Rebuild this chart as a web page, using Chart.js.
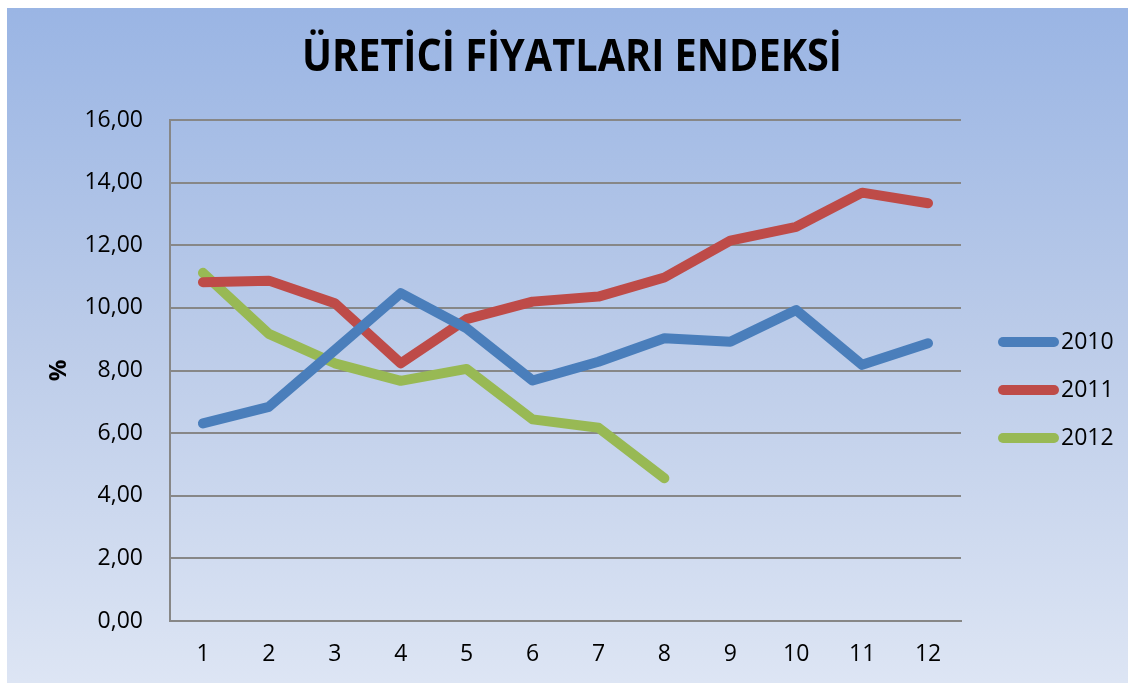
<!DOCTYPE html>
<html>
<head>
<meta charset="utf-8">
<script src="https://cdn.jsdelivr.net/npm/chart.js@4/dist/chart.umd.min.js"></script>
<style>
    html, body { margin: 0; padding: 0; background: #ffffff; }
    #wrap { position: absolute; left: 7px; top: 8px; width: 1121px; height: 675px; }
</style>
</head>
<body>
<div id="wrap"><canvas id="ppiChart"></canvas></div>
<script>
// Chart data
const chartTitle = 'ÜRETİCİ FİYATLARI ENDEKSİ';
const months = ['1', '2', '3', '4', '5', '6', '7', '8', '9', '10', '11', '12'];
const seriesNames = ['2010', '2011', '2012'];
const values2010 = [6.31, 6.84, 8.65, 10.47, 9.35, 7.68, 8.28, 9.03, 8.92, 9.93, 8.18, 8.87];
const values2011 = [10.82, 10.87, 10.15, 8.23, 9.64, 10.20, 10.36, 10.97, 12.15, 12.59, 13.68, 13.34];
const values2012 = [11.12, 9.17, 8.23, 7.67, 8.05, 6.44, 6.17, 4.56];
const yTicks = [0, 2, 4, 6, 8, 10, 12, 14, 16];

const seriesColors = ['#4a7ebb', '#be4b48', '#98b954'];
const tickFont = { family: 'Open Sans', size: 23 };

// Gradient background behind the whole chart
const backgroundPlugin = {
    id: 'gradientBg',
    beforeDraw(chart) {
        const ctx = chart.ctx;
        const g = ctx.createLinearGradient(0, 0, 0, chart.height);
        g.addColorStop(0, '#9ab5e4');
        g.addColorStop(0.5, '#bccce9');
        g.addColorStop(1, '#dde5f4');
        ctx.save();
        ctx.fillStyle = g;
        ctx.fillRect(0, 0, chart.width, chart.height);
        ctx.restore();
    }
};

// Title centred on the whole picture, squeezed to a condensed width
const titlePlugin = {
    id: 'pageTitle',
    afterDraw(chart) {
        const ctx = chart.ctx;
        ctx.save();
        ctx.font = 'bold 45px "Open Sans"';
        ctx.fillStyle = '#000000';
        ctx.textAlign = 'center';
        ctx.textBaseline = 'middle';
        const w = ctx.measureText(chartTitle).width;
        const sx = 540 / w;
        ctx.translate(565, 50);
        ctx.scale(sx, 1);
        ctx.fillText(chartTitle, 0, 0);
        ctx.restore();
    }
};

// Legend drawn at the right, line samples like the original
const sideLegendPlugin = {
    id: 'sideLegend',
    afterDraw(chart) {
        const ctx = chart.ctx;
        const area = chart.chartArea;
        ctx.save();
        chart.data.datasets.forEach((ds, i) => {
            const y = area.top + 222 + i * 48;
            ctx.strokeStyle = ds.borderColor;
            ctx.lineWidth = 10;
            ctx.lineCap = 'round';
            ctx.beginPath();
            ctx.moveTo(area.right + 42, y);
            ctx.lineTo(area.right + 93, y);
            ctx.stroke();
            ctx.fillStyle = '#000000';
            ctx.font = '23px "Open Sans"';
            ctx.textBaseline = 'middle';
            ctx.fillText(ds.label, area.right + 100, y);
        });
        ctx.restore();
    }
};

function makeDataset(label, data, color) {
    return {
        label: label,
        data: data,
        borderColor: color,
        backgroundColor: color,
        borderWidth: 10,
        borderCapStyle: 'round',
        borderJoinStyle: 'round',
        pointRadius: 0,
        tension: 0,
        fill: false
    };
}

const ctx = document.getElementById('ppiChart').getContext('2d');
const ppiChart = new Chart(ctx, {
    type: 'line',
    data: {
        labels: months,
        datasets: [
            makeDataset(seriesNames[0], values2010, seriesColors[0]),
            makeDataset(seriesNames[1], values2011, seriesColors[1]),
            makeDataset(seriesNames[2], values2012, seriesColors[2])
        ]
    },
    options: {
        responsive: true,
        maintainAspectRatio: false,
        animation: false,
        layout: { padding: { left: 0, right: 167, top: 112, bottom: 0 } },
        plugins: {
            legend: { display: false },
            tooltip: { enabled: false },
            title: { display: false }
        },
        scales: {
            x: {
                offset: true,
                grid: { display: false, drawTicks: false },
                border: { display: true, color: '#878787', width: 2 },
                ticks: { color: '#000000', font: tickFont, padding: 20 },
                afterFit(scale) { scale.height = 62; }
            },
            y: {
                min: 0,
                max: 16,
                afterBuildTicks(scale) {
                    scale.ticks = yTicks.map(v => ({ value: v }));
                },
                grid: { color: '#878787', lineWidth: 2, drawTicks: false },
                border: { display: true, color: '#878787', width: 2 },
                ticks: {
                    color: '#000000',
                    font: tickFont,
                    padding: 27,
                    callback: (v) => Number(v).toFixed(2).replace('.', ',')
                },
                title: {
                    display: true,
                    text: '%',
                    color: '#000000',
                    font: { family: 'Open Sans', size: 24, weight: 'bold' },
                    padding: { top: 38, bottom: 0 }
                },
                afterFit(scale) { scale.width = 163; }
            }
        }
    },
    plugins: [backgroundPlugin, titlePlugin, sideLegendPlugin]
});
</script>
</body>
</html>
